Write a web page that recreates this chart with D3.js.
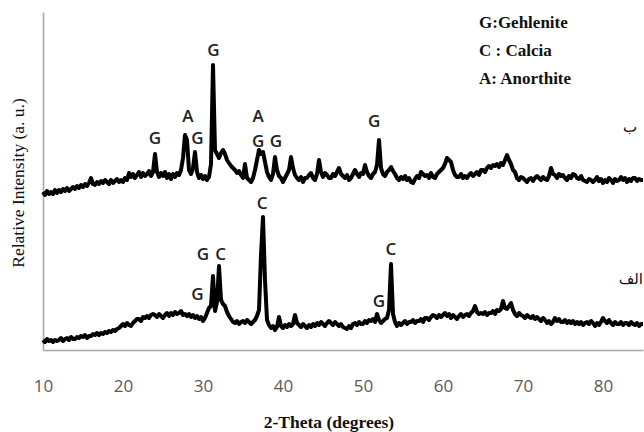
<!DOCTYPE html>
<html><head><meta charset="utf-8">
<script src="https://cdn.jsdelivr.net/npm/d3@7/dist/d3.min.js"></script>
<style>body{margin:0;background:#fff}svg{display:block}</style>
</head><body>
<script>
// 2-Theta tick values
const xTicks = [10, 20, 30, 40, 50, 60, 70, 80];

// scan grid: 10 to 85 degrees, 0.25 degree step
const theta = d3.range(10, 85.001, 0.25);

// Upper pattern (ب): relative intensity (a.u., offset included), one value per grid step
const upperI = [
158,155,159,156, 158,156,160,157, 160,158,161,159, 162,159,161,163, 161,164,162,165,
163,166,164,167, 172,166,165,168, 166,169,167,170, 168,166,170,167, 169,171,168,170,
168,172,170,177, 173,176,172,175, 178,173,177,174, 176,179,174,178, 196,178,173,177,
174,178,172,176, 171,176,173,177, 175,180,192,215, 210,180,176,182, 198,178,172,175,
171,174,170,173, 186,285,200,196, 192,197,200,196, 190,187,184,182, 180,177,179,175,
172,186,172,170, 168,172,180,190, 200,196,198,188, 178,173,170,176, 193,180,174,172,
168,172,176,180, 193,182,175,172, 170,173,168,172, 172,175,177,172, 170,176,190,178,
173,177,175,172, 172,176,174,178, 182,176,174,172, 175,170,172,176, 180,176,173,177,
176,185,178,174, 172,176,178,185, 210,182,176,174, 178,180,183,179, 176,172,170,173,
171,174,170,172, 168,167,171,174, 172,178,176,174, 175,172,177,173, 172,176,178,180,
182,186,192,190, 188,180,175,173, 173,176,172,174, 172,175,177,174, 176,178,175,180,
180,178,182,184, 182,185,184,186, 183,187,185,190, 195,190,186,180, 178,172,170,173,
172,170,168,171, 172,169,172,174, 172,170,173,171, 170,174,182,176, 175,172,176,174,
175,172,170,174, 172,176,175,172, 171,174,170,169, 168,171,170,168, 170,173,169,171,
167,170,168,172, 170,167,171,169, 170,173,170,172, 168,171,169,172, 172,169,171,170,
170];

// Lower pattern (الف)
const lowerI = [
10,8,11,9, 10,8,10,9, 10,12,9,11, 12,10,13,11, 11,13,12,14,
13,15,12,14, 14,16,15,17, 15,17,16,18, 17,19,18,20, 19,21,22,24,
26,24,27,25, 24,27,29,31, 31,29,33,32, 34,32,35,36, 35,33,36,34,
32,35,37,34, 37,35,38,36, 37,39,35,36, 34,36,33,35, 32,34,31,33,
29,32,37,42, 44,74,39,48, 84,50,46,44, 38,34,31,28, 27,29,26,28,
29,27,30,28, 26,28,30,34, 40,95,133,70, 30,25,22,24, 20,23,33,24,
22,25,23,26, 24,26,35,27, 25,23,26,24, 22,25,23,26, 24,27,25,28,
26,24,27,29, 27,25,28,26, 24,26,23,22, 21,24,22,26, 27,25,28,26,
26,29,27,30, 29,31,28,36, 30,27,29,31, 32,40,86,36, 28,24,27,25,
27,29,26,28, 28,30,27,29, 29,31,28,32, 32,30,33,35, 34,32,35,33,
35,37,34,36, 32,35,33,31, 34,36,33,35, 36,34,37,39, 44,38,36,37,
36,38,35,37, 37,39,36,40, 39,41,49,42, 41,44,47,40, 36,34,37,35,
34,32,35,33, 32,34,31,33, 31,29,32,30, 27,29,26,28, 32,29,31,28,
28,30,27,29, 27,29,26,28, 26,28,25,27, 28,26,29,27, 24,27,25,28,
32,29,27,30, 27,25,28,26, 26,28,25,27, 27,25,28,26, 25,27,24,26,
26];

// Peak labels: phase letter, 2-theta, intensity position
const upperLabels = ["G","A","G","G","A","G","G","G"];
const upperLabelTheta = [24,28.1,29.3,31.3,36.9,36.9,39.1,51.4];
const upperLabelI = [213,235,213,301,235,210,210,230];
const lowerLabels = ["G","G","C","C","G","C"];
const lowerLabelTheta = [29.3,30,32.2,37.4,52,53.5];
const lowerLabelI = [57,97,97,148,50,102];

const legendItems = ["G:Gehlenite","C : Calcia","A: Anorthite"];
const xTitle = "2-Theta (degrees)";
const yTitle = "Relative Intensity (a. u.)";

const W = 644, H = 432;
const svg = d3.select("body").append("svg").attr("width", W).attr("height", H);

const x = d3.scaleLinear().domain([10, 85]).range([43, 643]);
const y = d3.scaleLinear().domain([0, 338]).range([350, 12]);

const gx = svg.append("g").attr("transform", `translate(0,${y(0)})`)
  .call(d3.axisBottom(x).tickValues(xTicks).tickSize(0).tickPadding(30).tickFormat(d3.format("d")));
gx.select(".domain").attr("stroke", "#a8a8a8").attr("stroke-width", 1.6);
gx.selectAll("text").attr("font-family", "'Open Sans', sans-serif").attr("font-size", 17).attr("fill", "#595959");

const gy = svg.append("g").attr("transform", `translate(${x(10)},0)`)
  .call(d3.axisLeft(y).tickValues([]).tickSize(0));
gy.select(".domain").attr("stroke", "#a8a8a8").attr("stroke-width", 1.6);

const line = d3.line().x(d => x(d[0])).y(d => y(d[1]));

function trace(ii) {
  svg.append("path").datum(theta.map((t, k) => [t, ii[k]]))
    .attr("d", line).attr("fill", "none").attr("stroke", "#000")
    .attr("stroke-width", 4).attr("stroke-linejoin", "round");
}
trace(upperI);
trace(lowerI);

function labels(ls, th, ii) {
  svg.append("g").selectAll("text").data(ls).join("text")
    .attr("x", (d, k) => x(th[k])).attr("y", (d, k) => y(ii[k]))
    .attr("text-anchor", "middle").attr("dominant-baseline", "central")
    .attr("font-family", "'Open Sans', sans-serif").attr("font-weight", 600)
    .attr("font-size", 17).attr("fill", "#222").text(d => d);
}
labels(upperLabels, upperLabelTheta, upperLabelI);
labels(lowerLabels, lowerLabelTheta, lowerLabelI);

svg.append("g").selectAll("text").data(legendItems).join("text")
  .attr("x", 479).attr("y", (d, k) => 28 + k * 28)
  .attr("font-family", "'Liberation Serif', serif").attr("font-weight", "bold")
  .attr("font-size", 17).attr("fill", "#111").text(d => d);

svg.append("text").attr("x", 630).attr("y", 132).attr("text-anchor", "middle")
  .attr("font-family", "'DejaVu Sans', sans-serif").attr("font-size", 15).attr("fill", "#111").text("ب");
svg.append("text").attr("x", 643).attr("y", 284).attr("text-anchor", "end")
  .attr("font-family", "'DejaVu Sans', sans-serif").attr("font-size", 15).attr("fill", "#111").text("الف");

svg.append("text").attr("x", 329).attr("y", 428).attr("text-anchor", "middle")
  .attr("font-family", "'Liberation Serif', serif").attr("font-weight", "bold")
  .attr("font-size", 17.5).attr("fill", "#111").text(xTitle);
svg.append("text").attr("transform", "translate(24,183) rotate(-90)").attr("text-anchor", "middle")
  .attr("font-family", "'Liberation Serif', serif")
  .attr("font-size", 17.5).attr("fill", "#111").text(yTitle);
</script>
</body></html>
